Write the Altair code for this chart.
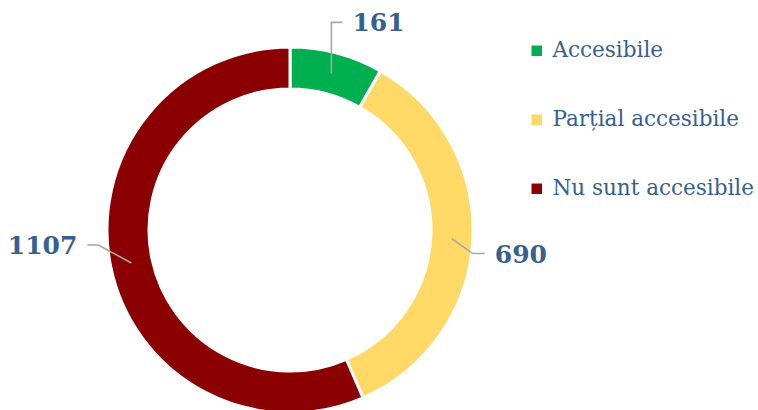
import math
import altair as alt
import pandas as pd

# ---- data ----
categories = ["Accesibile", "Parțial accesibile", "Nu sunt accesibile"]
values = [161, 690, 1107]
colors = ["#00B050", "#FFD966", "#8B0000"]

# ---- layout / style ----
W, H = 758, 410
CX, CY = 290, 230
R_OUT, R_IN = 183, 141
R_MID = (R_OUT + R_IN) / 2
TEXT_COLOR = "#35608F"
FONT = "DejaVu Serif"
# manual label placement (leader elbow offsets, horizontal tail direction)
label_layout = {
    "Accesibile": dict(elbow=(0, -51), tail=11, gap=10),
    "Parțial accesibile": dict(elbow=(21, 15), tail=12, gap=10),
    "Nu sunt accesibile": dict(elbow=(-33, -18), tail=-11, gap=10),
}

df = pd.DataFrame({"cat": categories, "val": values, "ord": range(len(values))})

total = sum(values)
line_rows, label_rows = [], []
cum = 0
for c, v in zip(categories, values):
    mid = (cum + v / 2) / total * 2 * math.pi
    cum += v
    sx = CX + R_MID * math.sin(mid)
    sy = CY - R_MID * math.cos(mid)
    lay = label_layout[c]
    ex, ey = sx + lay["elbow"][0], sy + lay["elbow"][1]
    tx, ty = ex + lay["tail"], ey
    for i, (px, py) in enumerate([(sx, sy), (ex, ey), (tx, ty)]):
        line_rows.append({"cat": c, "i": i, "px": px, "py": py})
    side = 1 if lay["tail"] > 0 else -1
    label_rows.append({"cat": c, "val": v, "px": tx + side * lay["gap"],
                       "py": ty + 1, "align": "left" if side > 0 else "right"})

lines_df = pd.DataFrame(line_rows)
labels_df = pd.DataFrame(label_rows)

color_scale = alt.Scale(domain=categories, range=colors)

arc = alt.Chart(df).mark_arc(
    outerRadius=R_OUT, innerRadius=R_IN, stroke="white", strokeWidth=3
).encode(
    theta=alt.Theta("val:Q", stack=True),
    order=alt.Order("ord:Q"),
    color=alt.Color(
        "cat:N", scale=color_scale, sort=categories,
        legend=alt.Legend(
            title=None, orient="none", legendX=526, legendY=40,
            symbolType="square", symbolSize=110, symbolStrokeWidth=0,
            labelFont=FONT, labelFontSize=21.5, labelColor=TEXT_COLOR,
            rowPadding=46, labelOffset=5, symbolOffset=0, labelLimit=0,
        ),
    ),
    x=alt.value(CX),
    y=alt.value(CY),
)

leaders = alt.Chart(lines_df).mark_line(color="#A6A6A6", strokeWidth=1.6).encode(
    x=alt.X("px:Q", scale=None, axis=None),
    y=alt.Y("py:Q", scale=None, axis=None),
    detail="cat:N",
    order="i:Q",
)

def label_layer(align):
    return alt.Chart(labels_df[labels_df["align"] == align]).mark_text(
        font=FONT, fontSize=25, fontWeight="bold", color=TEXT_COLOR,
        align=align, baseline="middle",
    ).encode(
        x=alt.X("px:Q", scale=None, axis=None),
        y=alt.Y("py:Q", scale=None, axis=None),
        text="val:Q",
    )

chart = alt.layer(arc, leaders, label_layer("left"), label_layer("right")).properties(
    width=W, height=H, autosize=alt.AutoSizeParams(type="none"), padding=0,
).configure_view(stroke=None)

chart.save("out.html", embed_options={"renderer": "svg", "actions": False})
